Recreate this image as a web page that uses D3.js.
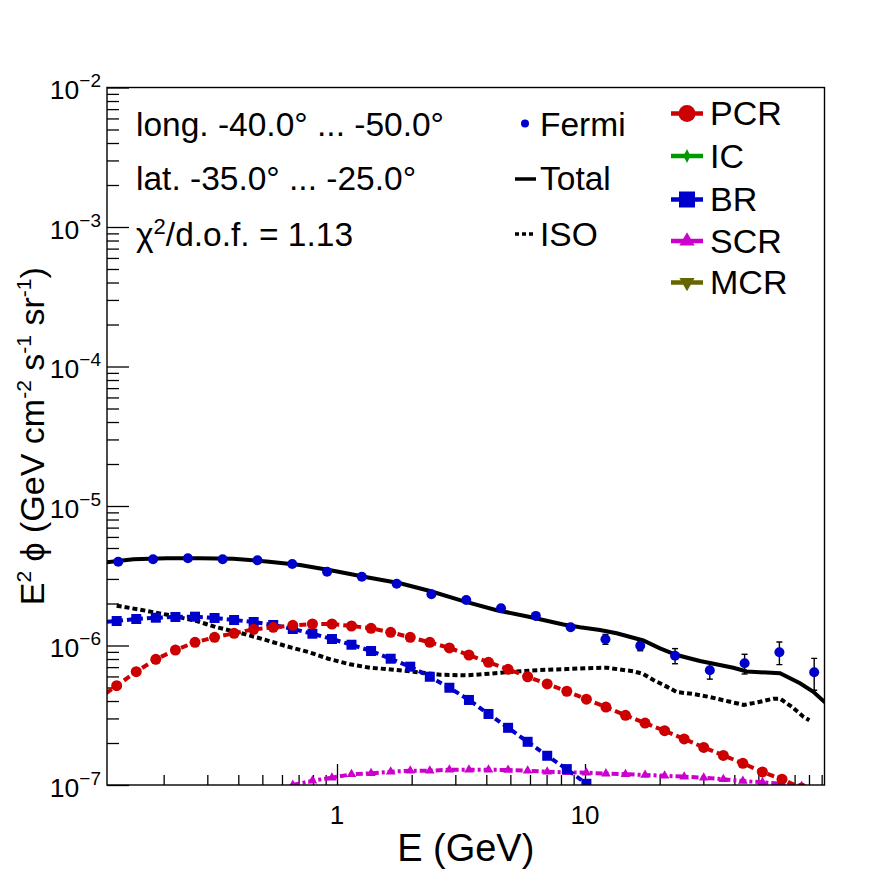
<!DOCTYPE html>
<html><head><meta charset="utf-8">
<script src="https://cdn.jsdelivr.net/npm/d3@7"></script>
<style>body{margin:0;background:#fff}svg{display:block;font-family:"Liberation Sans",Arial,Helvetica,sans-serif}</style>
</head><body><svg id="c" width="896" height="872"></svg>
<script>
// ---------------- data ----------------
const fermiE = [0.1312,0.1813,0.2505,0.3459,0.4779,0.6600,0.9118,1.259,1.740,2.403,3.320,4.586,6.335,8.750,12.09,16.70,23.07,31.86,44.01,60.79,83.97];
const fermiV = [3.99e-6,4.15e-6,4.22e-6,4.15e-6,4.08e-6,3.84e-6,3.38e-6,3.11e-6,2.77e-6,2.33e-6,2.12e-6,1.85e-6,1.63e-6,1.35e-6,1.11e-6,9.97e-7,8.45e-7,6.64e-7,7.45e-7,8.94e-7,6.43e-7];
const fermiErr = [3e-8,3e-8,3e-8,3e-8,3e-8,3e-8,3e-8,3e-8,3e-8,3e-8,3e-8,3e-8,4e-8,5e-8,9e-8,8e-8,1.05e-7,9e-8,1.2e-7,1.65e-7,1.65e-7];

const totalE = [0.1179,0.1509,0.2057,0.2803,0.3818,0.5206,0.7094,0.9662,1.318,1.795,2.371,3.231,4.405,6.000,8.175,9.546,11.49,13.42,17.18,20.06,23.43,29.09,39.63,44.87,61.14,73.61,83.30,92.24,106.7];
const totalV = [3.949e-6,4.149e-6,4.219e-6,4.219e-6,4.191e-6,4.002e-6,3.777e-6,3.438e-6,3.083e-6,2.792e-6,2.459e-6,2.078e-6,1.791e-6,1.601e-6,1.414e-6,1.350e-6,1.291e-6,1.223e-6,1.086e-6,9.55e-7,8.55e-7,7.74e-7,6.93e-7,6.51e-7,6.32e-7,5.36e-7,4.66e-7,3.95e-7,3.23e-7];

const isoE = [0.1293,0.1632,0.2122,0.2718,0.3272,0.3999,0.5045,0.6267,0.7661,0.9224,1.128,1.359,1.687,2.031,2.602,3.334,4.140,5.139,6.583,8.437,10.80,12.23,13.84,15.66,17.18,18.86,21.35,23.43,27.33,31.92,38.43,43.77,50.77,57.44,61.14,68.17,75.90,80.25];
const isoV = [1.929e-6,1.797e-6,1.646e-6,1.498e-6,1.350e-6,1.243e-6,1.108e-6,9.87e-7,8.98e-7,8.04e-7,7.33e-7,6.93e-7,6.71e-7,6.49e-7,6.17e-7,6.11e-7,6.28e-7,6.49e-7,6.67e-7,6.78e-7,6.90e-7,6.93e-7,6.73e-7,6.53e-7,6.25e-7,5.66e-7,5.07e-7,4.64e-7,4.49e-7,4.27e-7,3.95e-7,3.75e-7,3.95e-7,4.16e-7,4.16e-7,3.64e-7,3.09e-7,2.91e-7];

const modelE = [0.1078,0.1293,0.1551,0.1860,0.2231,0.2676,0.3209,0.3847,0.4613,0.5532,0.6634,0.7959,0.9543,1.144,1.372,1.646,1.974,2.367,2.839,3.404,4.082,4.896,5.871,7.040,8.443,10.13,12.14,14.56,17.46,20.94,25.11,30.11,36.12,43.31,51.94,62.29,74.70];
const pcrV = [4.09e-7,5.15e-7,6.49e-7,7.96e-7,9.28e-7,1.054e-6,1.145e-6,1.223e-6,1.306e-6,1.350e-6,1.395e-6,1.426e-6,1.426e-6,1.380e-6,1.328e-6,1.243e-6,1.145e-6,1.054e-6,9.60e-7,8.55e-7,7.58e-7,6.75e-7,5.97e-7,5.30e-7,4.70e-7,4.12e-7,3.62e-7,3.16e-7,2.78e-7,2.45e-7,2.14e-7,1.86e-7,1.63e-7,1.43e-7,1.24e-7,1.10e-7,9.5e-8];
const brV = [1.46e-6,1.498e-6,1.549e-6,1.582e-6,1.601e-6,1.609e-6,1.575e-6,1.523e-6,1.474e-6,1.403e-6,1.313e-6,1.215e-6,1.113e-6,1.013e-6,9.13e-7,8.04e-7,7.05e-7,5.97e-7,4.98e-7,4.07e-7,3.23e-7,2.57e-7,2.04e-7,1.62e-7,1.30e-7,1.02e-7,null,null,null,null,null,null,null,null,null,null,null];
const scrV = [null,null,null,null,null,null,null,null,null,null,1.00e-7,1.073e-7,1.128e-7,1.193e-7,1.213e-7,1.245e-7,1.266e-7,1.266e-7,1.287e-7,1.287e-7,1.287e-7,1.281e-7,1.266e-7,1.245e-7,1.233e-7,1.225e-7,1.207e-7,1.195e-7,1.179e-7,1.164e-7,1.147e-7,1.128e-7,1.099e-7,1.068e-7,1.046e-7,1.022e-7,9.8e-8];

const xMajor = [1, 10];
const xMajorLabels = ["1", "10"];
const xMinor = [0.2,0.3,0.4,0.5,0.6,0.7,0.8,0.9,2,3,4,5,6,7,8,9,20,30,40,50,60,70,80,90];
const yMajor = [1e-7,1e-6,1e-5,1e-4,1e-3,1e-2];
const yMajorExp = ["−7","−6","−5","−4","−3","−2"];
const infoLines = ["long. -40.0° ... -50.0°", "lat. -35.0° ... -25.0°"];
const chiText = ["χ", "2", "/d.o.f. = 1.13"];
const legendLeft = ["Fermi", "Total", "ISO"];
const legendRight = ["PCR", "IC", "BR", "SCR", "MCR"];
const legendRightColors = ["#cc0000", "#009900", "#0000cc", "#cc00cc", "#666600"];

// ---------------- layout ----------------
const L = 107, R = 824.5, T = 87.5, B = 785;
const svg = d3.select("#c");
const x = d3.scaleLog().domain([0.1182, 92.4]).range([L, R]);
const y = d3.scaleLog().domain([1e-7, 1e-2]).range([B, T]);

svg.append("defs").append("clipPath").attr("id","clip")
  .append("rect").attr("x", L).attr("y", T).attr("width", R - L).attr("height", B - T);

// axes ticks
const gx = svg.append("g").attr("transform", `translate(0,${B})`);
gx.call(d3.axisBottom(x).tickValues(xMajor).tickSize(-21).tickFormat(""));
const gx2 = svg.append("g").attr("transform", `translate(0,${B})`);
gx2.call(d3.axisBottom(x).tickValues(xMinor).tickSize(-10).tickFormat(""));
const yMinor = [];
yMajor.slice(0, -1).forEach(d => { for (let k = 2; k <= 9; k++) yMinor.push(d * k); });
const gy = svg.append("g").attr("transform", `translate(${L},0)`);
gy.call(d3.axisLeft(y).tickValues(yMajor).tickSize(-22).tickFormat(""));
const gy2 = svg.append("g").attr("transform", `translate(${L},0)`);
gy2.call(d3.axisLeft(y).tickValues(yMinor).tickSize(-12).tickFormat(""));
svg.selectAll(".domain").remove();
svg.selectAll(".tick line").attr("stroke", "#000").attr("stroke-width", 1.3);

// tick labels
svg.append("g").selectAll("text").data(xMajor).join("text")
  .attr("x", d => x(d)).attr("y", 824).attr("text-anchor", "middle")
  .attr("font-size", 26).text((d, i) => xMajorLabels[i]);
const yl = svg.append("g").selectAll("text").data(yMajor).join("text")
  .attr("x", 101).attr("y", d => y(d) + 11.5).attr("text-anchor", "end").attr("font-size", 26.5);
yl.append("tspan").text("10");
yl.append("tspan").attr("font-size", 19).attr("dy", -12).text((d, i) => yMajorExp[i]);

// axis titles
svg.append("text").attr("x", (L + R) / 2).attr("y", 861).attr("text-anchor", "middle")
  .attr("font-size", 38).text("E (GeV)");
const yt = svg.append("text").attr("transform", `translate(44,${(T + B) / 2}) rotate(-90)`)
  .attr("text-anchor", "middle").attr("font-size", 34);
const parts = [["E",0],["2",1],[" ϕ (GeV cm",0],["-2",1],[" s",0],["-1",1],[" sr",0],["-1",1],[")",0]];
let prevSup = 0;
parts.forEach(([t, s]) => {
  const ts = yt.append("tspan").text(t);
  if (s) ts.attr("font-size", 21);
  const dy = (s ? -13 : 0) - (prevSup ? -13 : 0);
  if (dy) ts.attr("dy", dy);
  prevSup = s;
});

// plot contents
const plot = svg.append("g").attr("clip-path", "url(#clip)");
const line = d3.line().defined(d => d[1] != null).x(d => x(d[0])).y(d => y(d[1]));

function series(E, V) { return E.map((e, i) => [e, V[i]]); }

// ISO
plot.append("path").datum(series(isoE, isoV)).attr("d", line)
  .attr("fill", "none").attr("stroke", "#000").attr("stroke-width", 4).attr("stroke-dasharray", "5,3");
// SCR
const scr = series(modelE, scrV);
plot.append("path").datum(scr).attr("d", line)
  .attr("fill", "none").attr("stroke", "#cc00cc").attr("stroke-width", 4).attr("stroke-dasharray", "7,3,3,3");
plot.append("g").selectAll("path").data(scr.filter(d => d[1] != null)).join("path")
  .attr("transform", d => `translate(${x(d[0])},${y(d[1])})`)
  .attr("d", d3.symbol(d3.symbolTriangle, 40)).attr("fill", "#cc00cc");
// BR
const br = series(modelE, brV);
plot.append("path").datum(br).attr("d", line)
  .attr("fill", "none").attr("stroke", "#0000cc").attr("stroke-width", 4).attr("stroke-dasharray", "6,4");
plot.append("g").selectAll("rect").data(br.filter(d => d[1] != null)).join("rect")
  .attr("x", d => x(d[0]) - 5).attr("y", d => y(d[1]) - 5).attr("width", 10).attr("height", 10).attr("fill", "#0000cc");
// PCR
const pcr = series(modelE, pcrV);
plot.append("path").datum(pcr).attr("d", line)
  .attr("fill", "none").attr("stroke", "#cc0000").attr("stroke-width", 4).attr("stroke-dasharray", "7,4");
plot.append("g").selectAll("circle").data(pcr).join("circle")
  .attr("cx", d => x(d[0])).attr("cy", d => y(d[1])).attr("r", 5.5).attr("fill", "#cc0000");
// Total
plot.append("path").datum(series(totalE, totalV)).attr("d", line)
  .attr("fill", "none").attr("stroke", "#000").attr("stroke-width", 4);
// Fermi
const fermi = fermiE.map((e, i) => ({e, v: fermiV[i], s: fermiErr[i]}));
const fe = plot.append("g").attr("stroke", "#000").attr("stroke-width", 1.4);
fe.selectAll("line.v").data(fermi).join("line").attr("class", "v")
  .attr("x1", d => x(d.e)).attr("x2", d => x(d.e)).attr("y1", d => y(d.v + d.s)).attr("y2", d => y(d.v - d.s));
fe.selectAll("line.t").data(fermi).join("line").attr("class", "t")
  .attr("x1", d => x(d.e) - 3).attr("x2", d => x(d.e) + 3).attr("y1", d => y(d.v + d.s)).attr("y2", d => y(d.v + d.s));
fe.selectAll("line.b").data(fermi).join("line").attr("class", "b")
  .attr("x1", d => x(d.e) - 3).attr("x2", d => x(d.e) + 3).attr("y1", d => y(d.v - d.s)).attr("y2", d => y(d.v - d.s));
plot.append("g").selectAll("circle").data(fermi).join("circle")
  .attr("cx", d => x(d.e)).attr("cy", d => y(d.v)).attr("r", 5).attr("fill", "#0000cc");

// frame
svg.append("rect").attr("x", L).attr("y", T).attr("width", R - L).attr("height", B - T)
  .attr("fill", "none").attr("stroke", "#000").attr("stroke-width", 1.4);

// annotations
svg.append("g").selectAll("text").data(infoLines).join("text")
  .attr("x", 136).attr("y", (d, i) => 136 + i * 54).attr("font-size", 33.5).text(d => d);
const chi = svg.append("text").attr("x", 136).attr("y", 246).attr("font-size", 33.5);
chi.append("tspan").text(chiText[0]);
chi.append("tspan").attr("font-size", 22).attr("dy", -12).text(chiText[1]);
chi.append("tspan").attr("dy", 12).text(chiText[2]);

// left legend
const ll = svg.append("g");
ll.selectAll("text").data(legendLeft).join("text")
  .attr("x", 540).attr("y", (d, i) => [136, 190, 246][i]).attr("font-size", 33.5).text(d => d);
ll.append("circle").attr("cx", 525).attr("cy", 123.5).attr("r", 4).attr("fill", "#0000cc");
ll.append("line").attr("x1", 515).attr("x2", 536).attr("y1", 179).attr("y2", 179).attr("stroke", "#000").attr("stroke-width", 3.5);
ll.append("line").attr("x1", 515).attr("x2", 536).attr("y1", 234).attr("y2", 234).attr("stroke", "#000").attr("stroke-width", 3.5).attr("stroke-dasharray", "4,3");

// right legend
const rl = svg.append("g");
const ry = [113.5, 156, 199.5, 241, 282.5];
rl.selectAll("text").data(legendRight).join("text")
  .attr("x", 710).attr("y", (d, i) => ry[i] + 11.5).attr("font-size", 34).text(d => d);
rl.selectAll("line").data(legendRight).join("line")
  .attr("x1", 671).attr("x2", 703).attr("y1", (d, i) => ry[i]).attr("y2", (d, i) => ry[i])
  .attr("stroke", (d, i) => legendRightColors[i]).attr("stroke-width", 4.5);
rl.append("circle").attr("cx", 687).attr("cy", ry[0]).attr("r", 8.5).attr("fill", legendRightColors[0]);
rl.append("path").attr("transform", `translate(687,${ry[1]})`).attr("d", "M0,-7L3.5,0L0,7L-3.5,0Z").attr("fill", legendRightColors[1]);
rl.append("rect").attr("x", 679).attr("y", ry[2] - 8).attr("width", 16).attr("height", 16).attr("fill", legendRightColors[2]);
rl.append("path").attr("transform", `translate(687,${ry[3]})`).attr("d", d3.symbol(d3.symbolTriangle, 100)).attr("fill", legendRightColors[3]);
rl.append("path").attr("transform", `translate(687,${ry[4]}) rotate(180)`).attr("d", d3.symbol(d3.symbolTriangle, 100)).attr("fill", legendRightColors[4]);
</script></body></html>
